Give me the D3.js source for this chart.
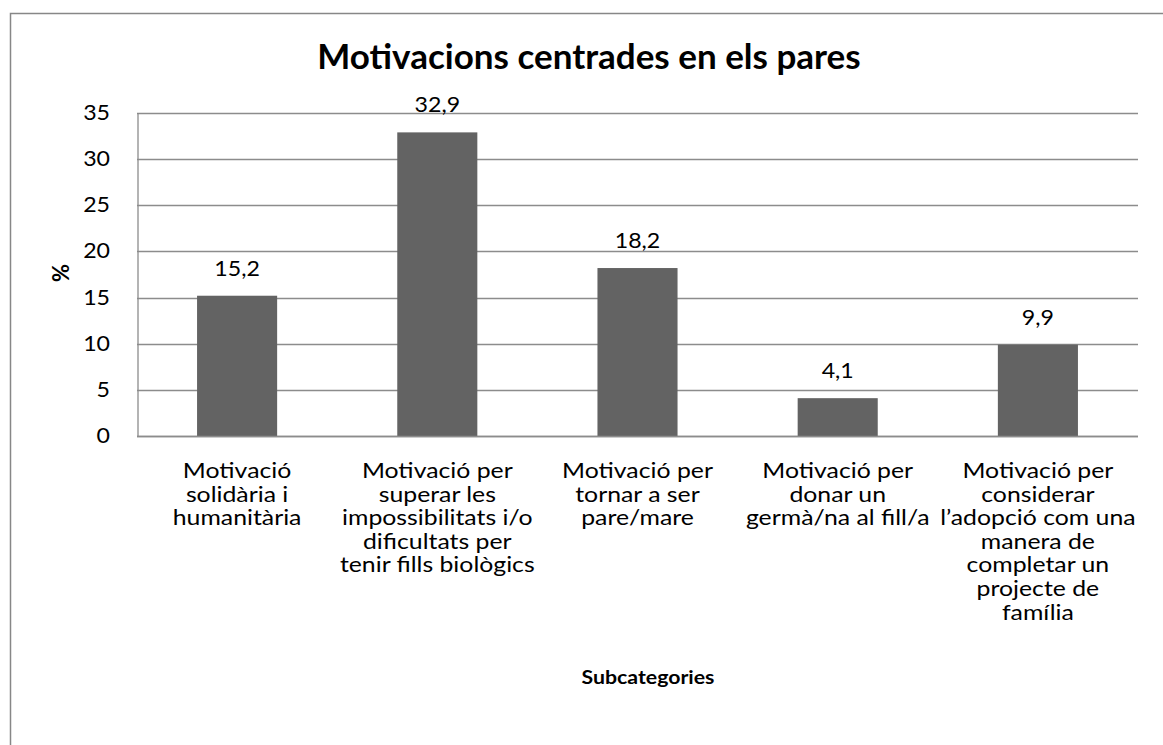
<!DOCTYPE html>
<html>
<head>
<meta charset="utf-8">
<script src="https://cdn.jsdelivr.net/npm/d3@7"></script>
<style>
  body { margin: 0; background: #fff; }
  svg { display: block; font-family: Lato, "Open Sans", sans-serif; }
</style>
</head>
<body>
<div id="chart"></div>
<script>
// chart data
var categories = ["c1", "c2", "c3", "c4", "c5"];
var categoryLines = [
  ["Motivació", "solidària i", "humanitària"],
  ["Motivació per", "superar les", "impossibilitats i/o", "dificultats per", "tenir fills biològics"],
  ["Motivació per", "tornar a ser", "pare/mare"],
  ["Motivació per", "donar un", "germà/na al fill/a"],
  ["Motivació per", "considerar", "l’adopció com una", "manera de", "completar un", "projecte de", "família"]
];
var values = [15.2, 32.9, 18.2, 4.1, 9.9];
var yTicks = [0, 5, 10, 15, 20, 25, 30, 35];

var width = 1163, height = 745;
var margin = { left: 137, right: 25, top: 113, bottom: 309 };
// the reference text is a bit wider than Lato, so stretch it sideways
var textStretch = 1.21, numStretch = 1.13;

var svg = d3.select("#chart").append("svg")
    .attr("width", width)
    .attr("height", height);

// outer frame (runs off the right and bottom edge)
svg.append("rect")
    .attr("x", 10.5).attr("y", 13.5)
    .attr("width", 1200).attr("height", 800)
    .attr("fill", "#fff")
    .attr("stroke", "#878787")
    .attr("stroke-width", 1.5);

var x = d3.scaleBand()
    .domain(categories)
    .range([margin.left, width - margin.right])
    .paddingInner(0.6)
    .paddingOuter(0.3);

var y = d3.scaleLinear()
    .domain([0, 35])
    .range([height - margin.bottom, margin.top]);

// gridlines
svg.append("g")
  .selectAll("line")
  .data(yTicks)
  .join("line")
    .attr("x1", margin.left)
    .attr("x2", width - margin.right)
    .attr("y1", function(d) { return Math.round(y(d)) + 0.5; })
    .attr("y2", function(d) { return Math.round(y(d)) + 0.5; })
    .attr("stroke", "#8c8c8c")
    .attr("stroke-width", 1.3);

// y axis
var yAxis = svg.append("g")
    .attr("transform", "translate(" + (margin.left + 0.5) + ",0)")
    .call(d3.axisLeft(y).tickValues(yTicks).tickSize(0));
yAxis.select(".domain").attr("stroke", "#8c8c8c").attr("stroke-width", 1.3);
yAxis.selectAll("text")
    .attr("font-size", 20.5)
    .attr("font-family", "Lato, sans-serif")
    .attr("fill", "#000")
    .attr("x", -27.5 / numStretch)
    .attr("transform", "scale(" + numStretch + ",1)");

// bars
svg.append("g")
  .selectAll("rect")
  .data(values)
  .join("rect")
    .attr("x", function(d, i) { return x(categories[i]); })
    .attr("width", x.bandwidth())
    .attr("y", function(d) { return y(d); })
    .attr("height", function(d) { return y(0) - y(d); })
    .attr("fill", "#636363");

// bottom axis line over bars
svg.append("line")
    .attr("x1", margin.left)
    .attr("x2", width - margin.right)
    .attr("y1", Math.round(y(0)) + 0.5)
    .attr("y2", Math.round(y(0)) + 0.5)
    .attr("stroke", "#8c8c8c")
    .attr("stroke-width", 1.3);

// value labels
svg.append("g")
  .selectAll("text")
  .data(values)
  .join("text")
    .attr("transform", function(d, i) {
      return "translate(" + (x(categories[i]) + x.bandwidth() / 2) + "," + (y(d) - 20) + ") scale(" + numStretch + ",1)";
    })
    .attr("text-anchor", "middle")
    .attr("font-size", 20.5)
    .text(function(d) { return d3.format(".1f")(d).replace(".", ","); });

// category labels
var cat = svg.append("g")
  .selectAll("text")
  .data(categoryLines)
  .join("text")
    .attr("text-anchor", "middle")
    .attr("font-size", 20.5)
    .attr("transform", function(d, i) {
      return "translate(" + (x(categories[i]) + x.bandwidth() / 2) + ",478) scale(" + textStretch + ",1)";
    });
cat.selectAll("tspan")
  .data(function(d) { return d; })
  .join("tspan")
    .attr("x", 0)
    .attr("dy", function(d, i) { return i === 0 ? 0 : 23.6; })
    .text(function(d) { return d; });

// title
svg.append("text")
    .attr("x", 589)
    .attr("y", 69)
    .attr("text-anchor", "middle")
    .attr("font-size", 35)
    .attr("font-weight", "bold")
    .text("Motivacions centrades en els pares");

// axis titles
svg.append("text")
    .attr("transform", "translate(648,684) scale(1.12,1)")
    .attr("text-anchor", "middle")
    .attr("font-size", 19)
    .attr("font-weight", "bold")
    .text("Subcategories");

svg.append("text")
    .attr("transform", "translate(69,273) rotate(-90)")
    .attr("text-anchor", "middle")
    .attr("font-size", 22)
    .attr("font-weight", "bold")
    .text("%");
</script>
</body>
</html>
